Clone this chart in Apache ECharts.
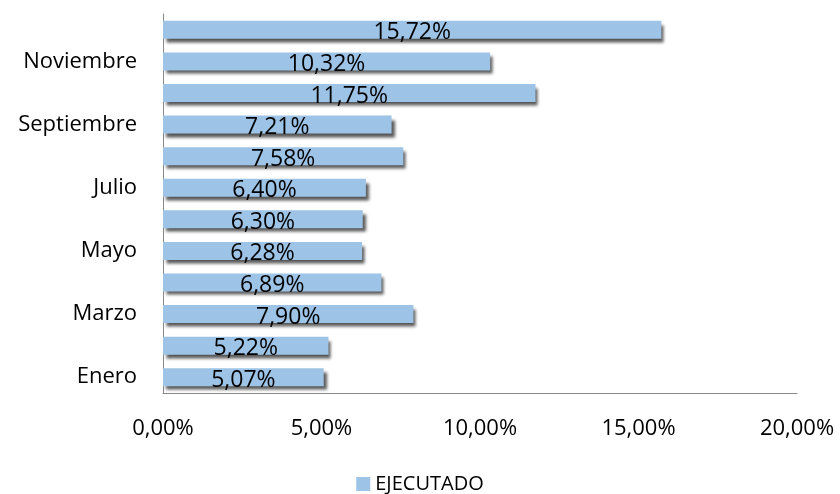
<!DOCTYPE html>
<html><head><meta charset="utf-8">
<script src="https://cdn.jsdelivr.net/npm/echarts@6/dist/echarts.min.js"></script>
<style>html,body{margin:0;padding:0;background:#fff}#c{width:840px;height:494px}</style>
</head><body><div id="c"></div>
<script>
const categories = ['Enero','Febrero','Marzo','Abril','Mayo','Junio','Julio','Agosto','Septiembre','Octubre','Noviembre','Diciembre'];
const ejecutado = [5.07,5.22,7.90,6.89,6.28,6.30,6.40,7.58,7.21,11.75,10.32,15.72];
const seriesName = 'EJECUTADO';
const fmt = v => v.toFixed(2).replace('.', ',') + '%';
const FONT = 'Open Sans';
const chart = echarts.init(document.getElementById('c'), null, {renderer:'canvas'});
chart.setOption({
  animation:false,
  textStyle:{fontFamily:FONT},
  grid:{left:163,right:43,top:14,bottom:101,containLabel:false},
  legend:{bottom:0,left:'center',itemWidth:14,itemHeight:14,icon:'rect',itemGap:7,padding:0,
    textStyle:{fontFamily:FONT,fontSize:20,color:'#000',lineHeight:16},data:[seriesName]},
  xAxis:{type:'value',min:0,max:20,interval:5,
    axisLine:{show:true,lineStyle:{color:'#888'}},axisTick:{show:false},splitLine:{show:false},
    axisLabel:{formatter:v=>fmt(v),fontSize:22,color:'#000',margin:25,fontFamily:FONT}},
  yAxis:{type:'category',data:categories,
    axisLine:{show:true,lineStyle:{color:'#888'}},axisTick:{show:false},
    axisLabel:{interval:1,fontSize:22,color:'#000',margin:26,fontFamily:FONT}},
  series:[{name:seriesName,type:'bar',data:ejecutado,barWidth:18,
    itemStyle:{color:'#9DC3E6',shadowColor:'rgba(0,0,0,0.65)',shadowBlur:3,shadowOffsetX:3,shadowOffsetY:4},
    label:{show:true,position:'inside',offset:[0,3],formatter:p=>fmt(p.value),fontSize:23,color:'#000',fontFamily:FONT}}]
});
</script></body></html>
